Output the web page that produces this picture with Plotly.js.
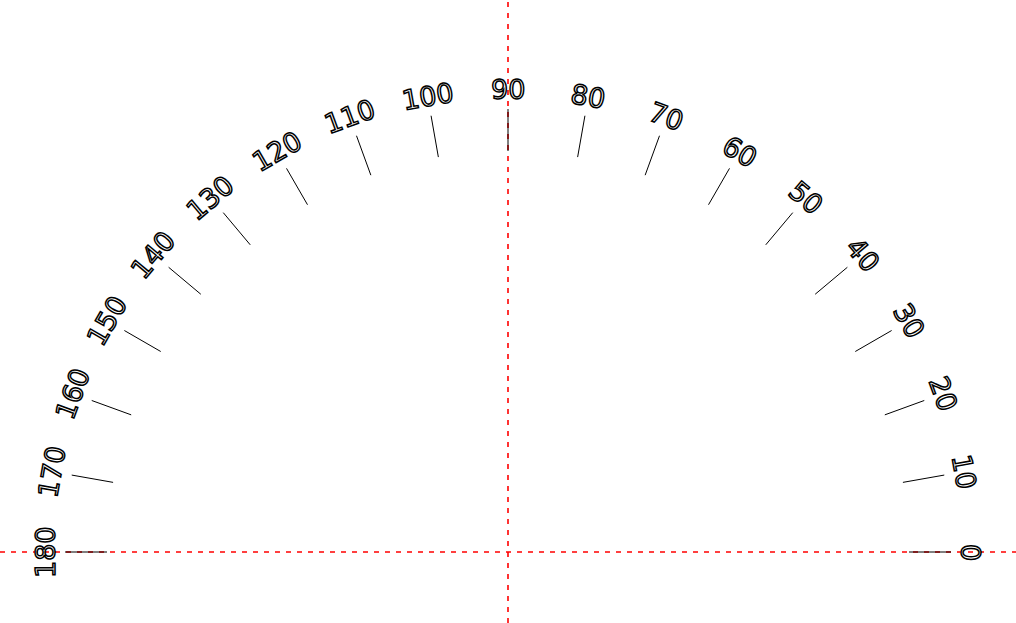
<!DOCTYPE html>
<html>
<head>
<meta charset="utf-8">
<script src="https://cdn.plot.ly/plotly-3.0.1.min.js"></script>
<style>
html,body{margin:0;padding:0;background:#fff;}
#chart{width:1016px;height:623px;}
.annotation-text{fill:#ffffff !important;stroke:#000000;stroke-width:1.5px;}
</style>
</head>
<body>
<div id="chart"></div>
<script>
// Protractor tick angles (degrees) and their labels
const angles = [0,10,20,30,40,50,60,70,80,90,100,110,120,130,140,150,160,170,180];
const tickLabels = ["0","10","20","30","40","50","60","70","80","90","100","110","120","130","140","150","160","170","180"];
const innerRadius = 401;
const outerRadius = 443;
const labelRadius = 463;

const rad = a => a * Math.PI / 180;

const tx = [], ty = [];
angles.forEach(a => {
  tx.push(innerRadius * Math.cos(rad(a)), outerRadius * Math.cos(rad(a)), null);
  ty.push(innerRadius * Math.sin(rad(a)), outerRadius * Math.sin(rad(a)), null);
});

const traces = [
  {x:[-508,508], y:[0,0], mode:'lines', line:{color:'#ff0000', width:1.6, dash:'5px,6px'}, hoverinfo:'skip'},
  {x:[0,0], y:[-71,552], mode:'lines', line:{color:'#ff0000', width:1.6, dash:'5px,6px'}, hoverinfo:'skip'},
  {x:tx, y:ty, mode:'lines', line:{color:'#000000', width:1}, hoverinfo:'skip'}
];

const annotations = angles.map((a, i) => ({
  x: labelRadius * Math.cos(rad(a)),
  y: labelRadius * Math.sin(rad(a)),
  xref:'x', yref:'y',
  text: tickLabels[i],
  showarrow:false,
  textangle: 90 - a,
  xanchor:'center', yanchor:'middle',
  font:{family:'DejaVu Sans', size:27, color:'#000000'}
}));

const layout = {
  width:1016, height:623,
  margin:{l:0,r:0,t:0,b:0},
  paper_bgcolor:'#ffffff', plot_bgcolor:'#ffffff',
  showlegend:false,
  xaxis:{range:[-508,508], visible:false, fixedrange:true},
  yaxis:{range:[-71,552], visible:false, fixedrange:true},
  annotations: annotations
};

Plotly.newPlot('chart', traces, layout, {staticPlot:true, displayModeBar:false});
</script>
</body>
</html>
